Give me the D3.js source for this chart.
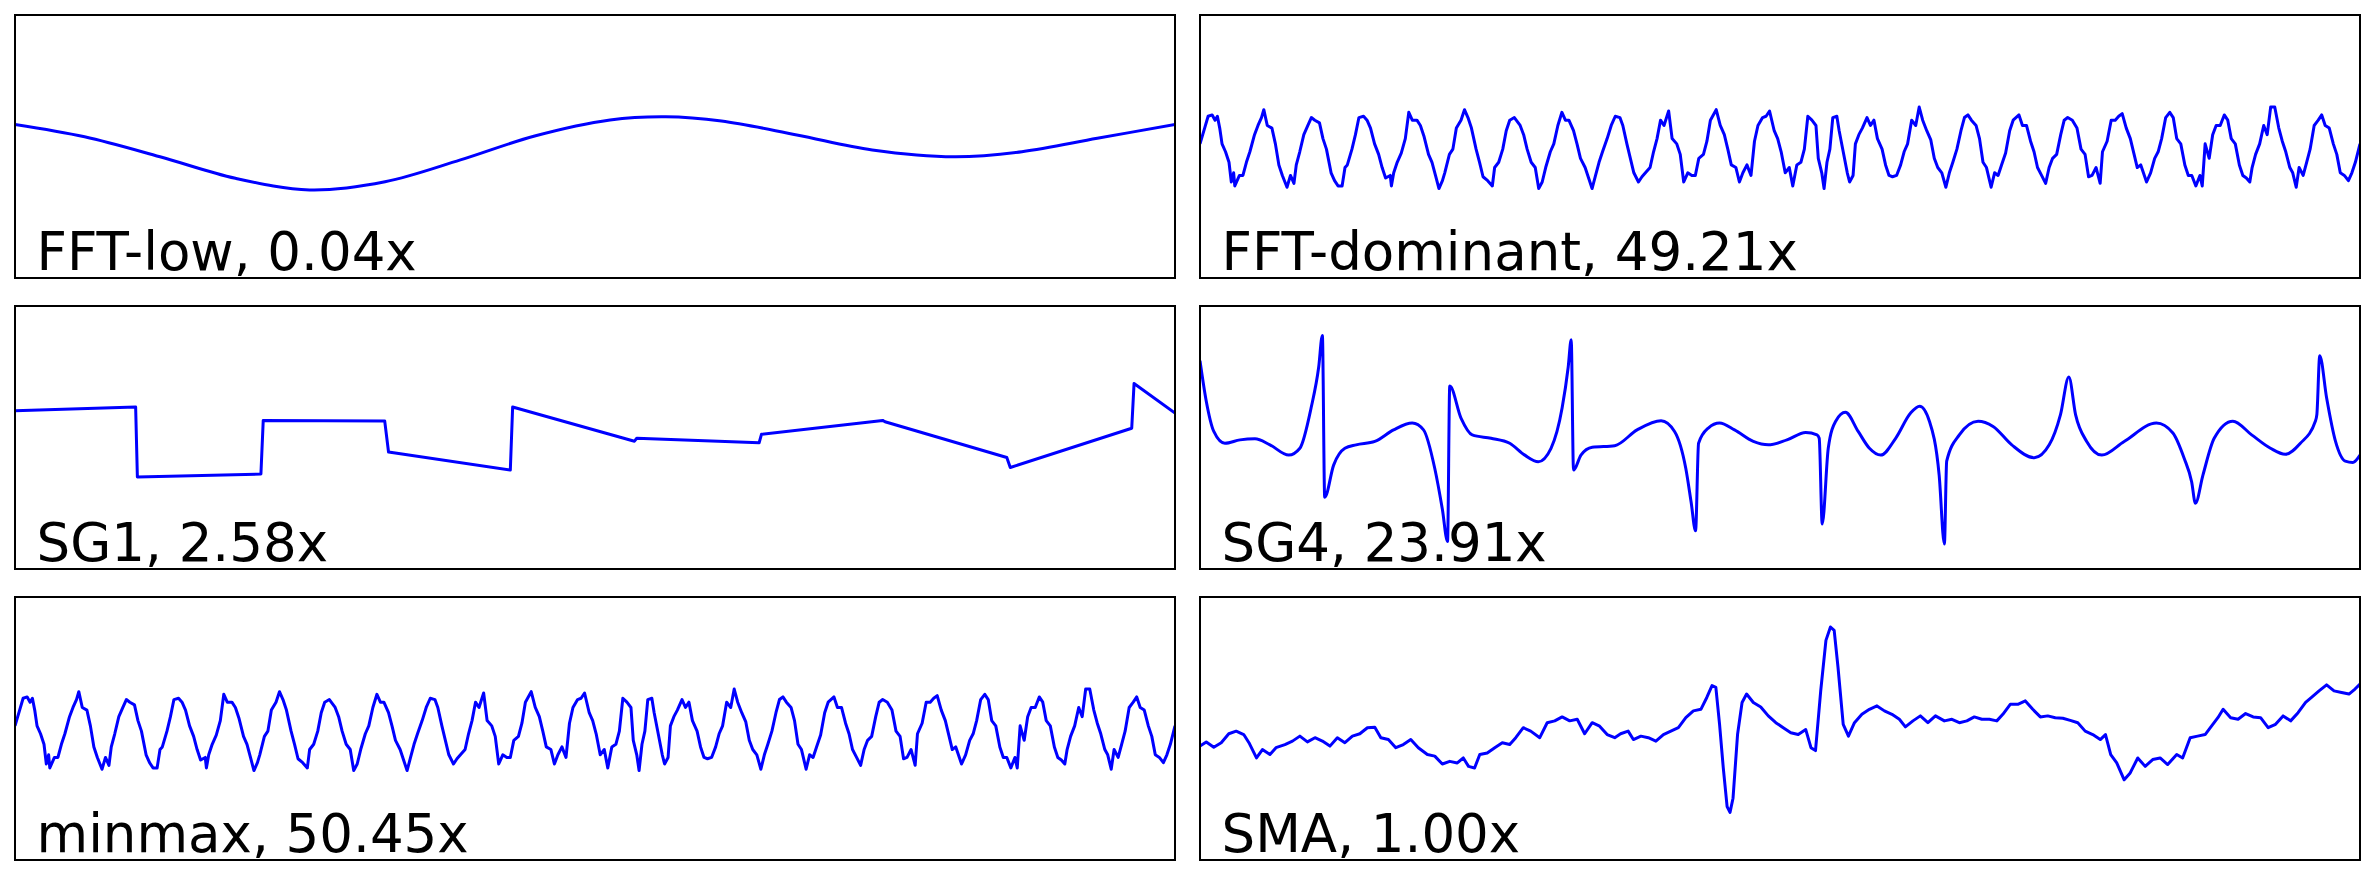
<!DOCTYPE html>
<html>
<head>
<meta charset="utf-8">
<script src="https://cdn.jsdelivr.net/npm/d3@7"></script>
<style>
  body { margin: 0; background: #fff; }
  svg { display: block; }
</style>
</head>
<body>
<svg id="chart"></svg>
<script>
// values: [t, v], t = sample position 0..1000, v = level 0..100
const labels = ["FFT-low, 0.04x", "FFT-dominant, 49.21x", "SG1, 2.58x", "SG4, 23.91x", "minmax, 50.45x", "SMA, 1.00x"];

const fftLowPts = [[0,58.4],[60,53.7],[125,46.1],[190,37.9],[254,33.5],[319,36.6],[384,44.9],[448,54.0],[513,60.1],[561,61.3],[609,59.7],[674,54.4],[739,48.7],[810,46.1],[868,48.0],[933,53.1],[1000,58.4]];

const fftDomPts = [[0,51],[4,57],[7,61.5],[10.5,62],[13,60],[15,61.5],[17,57],[19,51],[22,48],[25,44],[27,36.5],[29,40],[30,35],[34,39],[37,39],[40,44],[43,48],[47,54.5],[50,58],[53,61],[55,64],[58,58],[62,57],[65,51],[68,43],[71,39],[75,34.5],[78,39],[81,36],[83,43],[86,48],[89.5,54.5],[93,58],[96,61],[99,60],[103,59],[106,53],[109,49],[113,40],[116,37],[119,35],[122.5,35],[125,42],[127,43],[131,49],[134,54.5],[137,61],[141,61.5],[144,60],[147,57],[150.5,51],[154,47],[157,42],[160,38],[164,39],[165,35],[167,40],[170,44],[173.5,47.5],[177,53],[180,63],[183,60],[187,60],[190,58],[193,54],[197,47],[200,44],[203,39],[206,34],[209,37],[211,40],[215,47],[218,49],[221,57],[225,60],[228,64],[231,61],[234,57],[238,49],[241,44],[244,38.5],[248,37],[252,35],[254,42],[257.5,44],[261,49],[264,56],[267,60],[271,61],[276,58],[279,54.5],[282,49],[285.5,44],[289,42],[292,34],[295,36.5],[298,42],[302,48],[305,51],[308.5,58],[312,63],[315,60],[318,60],[322,56],[325,51],[328,45.5],[332,42],[335,38],[338,34],[341,39],[344,44],[347,48],[351,53],[354.5,58],[358,61.5],[362,61],[364.5,58],[368,51],[371,45.5],[374,40],[378,36.5],[381,38.5],[384,40],[388,42],[391,48],[394,53],[397,60],[400,58],[404,63.5],[407,53],[411,51],[414,47],[417,36.5],[420.5,40],[424,39],[427,39],[430,45.5],[434,47],[437,52],[440,60],[445,64],[448.5,58],[452,54.5],[455,49],[458,43],[462,42],[465,36.5],[468,40],[471.5,43],[475,39],[478,52],[481,58],[485,61],[488,61.5],[491,63.5],[495,56],[498,53],[501,48],[504.5,40],[508,42],[511,35],
  [514.5,43],[518,44],[521,49],[524,61.5],[527.5,60],[531,58],[533,45.5],[536,40],[538,34],[540.5,44],[543,49],[545.5,61],[549,61.5],[551,56],[554.5,48],[558,40],[560,36.5],[563,39],[565,51],[568,54.5],[571,57],[575,61],[578,58],[581,60],[584,53],[588,49],[591,43],[594,39],[597,38.5],[600.5,39],[604,43],[607,48],[610,51],[613.5,60],[617,58],[620,65],[623,60],[626.5,56],[630,52.5],[633,45.5],[636,42],[639.5,40],[643,34.5],[646,40],[649,44],[652.5,49],[656,56],[659,61],[662,62],[665,60],[669,58],[672,53],[675,44],[678,42],[682,34.5],[685,40],[688,39],[691,43],[694.5,47.5],[698,56],[701,60],[706,62],[709,58],[712.5,58],[716,52],[719,48],[722,42],[725.5,39],[729,36],[732,42],[735,45.5],[738.5,47],[742,54.5],[745,60],[748,61],[752,60],[756,57],[759.5,49],[763,47],[766,38.5],[769,39],[772.5,42],[776,36],[778,48],[782,52],[785.5,60],[789,60],[792,61.5],[795,62.5],[798.5,57],[802,53],[805,47.5],[808,42],[811,43],[816,36.5],[819.5,40],[823,45.5],[826,48],[829,53],[832.5,61],[836,63],[839,61],[842,53],[845.5,51],[849,43],[852,39],[855,39],[858.5,35],[862,39],[864,35],[866.5,51],[870,45.5],[873,54.5],[876,58],[879.5,58],[883,62],[886,60],[889,53],[892.5,51],[896,43],[899,39],[902,38],[905,36.5],[907,42],[910,47],[913.5,51],[917,58],[920,54.5],[923,65],[926.5,65],[930,57],[933,52],[936,48],[939.5,42],[942,40],[945,34.5],[947.5,42],[951,39],[954,44],[957,49],[960.5,58],[964,60],[967,62],[970,58],[973.5,57],[977,51],[980,47],[983,40],[986.5,39],[990,37],[993,40],[996,44],[1000,51]];

// minmax reads the same as FFT-dominant at this resolution
const minmaxPts = fftDomPts;

const sg1Pts = [[0,60.2],[104,61.6],[105.5,35],[212,36.1],[214,56.5],[318.7,56.3],[322,44.5],[427,37.6],[429,61.6],[534,48.6],[536,49.7],[641.5,48.0],[643.5,51.2],[748,56.5],[750,56.0],[855,42.4],[858,38.6],[962.7,53.5],[964.7,70.5],[1000,59.3]];

const sg4Pts = [[0,79.2],[5.4,63.8],[11.9,52.3],[21.5,47.8],[34.5,49.1],[47.4,49.5],[60.3,47.2],[76.5,43.3],[86.1,45.9],[95.8,61.3],[102.3,76.7],[105.5,88.8],[107.5,27.3],[115.2,39.5],[124.9,45.9],[134.6,47.2],[150.7,48.5],[166.9,52.9],[183,55.5],[192.7,52.9],[202.4,38.2],[208.9,22.8],[213.4,10.5],[215.3,69.6],[225,57.4],[234.7,51],[250.9,49.7],[267,47.8],[280,43.3],[291.6,40.8],[302.6,45.9],[312.2,61.3],[317.4,76.7],[320,87.2],[322,37.6],[328.4,43.3],[338.1,46.3],[357.5,46.9],[376.8,52.9],[397.5,56.4],[409.1,52.3],[418.8,38.2],[423.4,25.4],[427.2,14.5],[429.8,47.8],[438.2,53.6],[447.9,55.5],[460.8,52.9],[477,48.5],[489.9,47.2],[506,49.1],[522.2,51.9],[531.9,51],[533.8,49.7],[536.4,17.1],[541.6,45.9],[548,56.2],[556.4,59.6],[567.4,52.3],[577.1,45.9],[586.8,43.3],[599.7,49.7],[612.6,59.3],[620.4,61.9],[628.8,56.2],[637.2,35.7],[641.7,9.5],[643.7,41],[654.6,51],[670.8,56.2],[683.7,54.2],[699.8,47.2],[719.2,42.3],[732.1,47.2],[741.8,58.7],[749,73],[754.8,58.7],[764.4,48.5],[777.4,43.3],[796.7,48.5],[824.5,55.5],[838.7,51.7],[848.4,42.1],[854.9,33.1],[858.1,25],[864.6,35.7],[874.3,49.7],[890.4,56.2],[906.6,51],[922.8,45.9],[935.6,43.6],[948.6,47.8],[961.5,56.2],[962.8,58.7],[965.3,81.1],[971.2,65.1],[978.9,48.5],[987.3,41],[993.8,40.5],[1000,43.3]];

const smaPts = [[0,43.3],[5.4,44.9],[11.9,42.9],[18.3,44.6],[24.8,48.0],[31.2,49.0],[37.7,47.7],[42.2,44.6],[48.7,38.8],[53.8,42.0],[60.3,40.1],[65.5,42.7],[73.2,43.9],[79.7,45.2],[86.1,47.1],[92.6,44.9],[99.1,46.5],[105.5,45.2],[112,43.3],[118.4,46.5],[124.9,44.6],[131.4,47.1],[137.8,48.0],[144.3,50.3],[150.7,50.5],[155.9,46.5],[162.4,45.8],[168.8,42.7],[175.3,43.9],[181.7,45.8],[188.2,42.7],[196,40.1],[202.4,39.5],[208.9,36.5],[215.3,37.5],[221.8,36.9],[227,38.8],[231.5,35.6],[236.7,35.0],[241.2,40.1],[247.6,40.7],[254.1,42.7],[260.6,44.6],[267,43.9],[272.2,46.5],[278.7,50.3],[285.1,49.0],[292.9,46.5],[299.3,52.2],[305.8,52.9],[312.2,54.4],[318.7,52.9],[325.2,53.5],[331.6,48.0],[338.1,52.2],[344.5,50.9],[351,47.7],[357.5,46.5],[362.6,48.0],[369.1,49.0],[373.6,45.8],[380.1,47.1],[386.5,46.5],[393,45.2],[399.5,47.7],[405.9,49.0],[412.4,50.3],[418.8,54.1],[425.3,56.7],[431.8,57.3],[436.9,61.8],[441.4,66.3],[444.7,65.6],[447.9,51.6],[451.1,35.0],[454.4,20.3],[456.9,18.1],[459.5,23.5],[463.4,47.7],[467.3,59.9],[471.2,63.1],[477,59.9],[483.4,58.2],[489.9,54.8],[496.4,52.2],[502.8,50.3],[509.3,48.4],[515.7,47.7],[522.2,49.6],[526.7,42.7],[530.6,41.6],[535.1,64.3],[539.6,83.5],[543.5,88.6],[546.7,87.3],[550,73.3],[554.5,51.6],[559,47.1],[564.2,52.2],[570.6,55.4],[577.1,57.3],[583.6,58.6],[590,56.7],[596.5,55.4],[602.9,53.5],[608.1,50.6],[614.6,52.9],[621,54.8],[627.5,52.2],[634,54.8],[641.7,52.9],[648.2,53.5],[654.6,52.2],[661.1,52.9],[667.5,54.4],[674,53.5],[680.5,53.5],[686.9,52.9],[692.1,55.4],[698.5,59.2],[705,59.2],[711.5,60.5],[717.9,57.3],[724.4,54.4],[730.8,54.8],[737.3,54.1],[743.8,53.9],[750.2,53.1],[756.7,52.2],[763.1,49.0],[769.6,47.7],[776.1,45.8],[780.6,47.7],[785.1,40.1],[790.3,36.9],[796.7,30.5],[801.9,33.1],[808.4,38.8],[814.8,35.6],[821.3,38.2],[827.7,38.8],[834.2,36.3],[842,40.1],[847.1,38.8],[853.6,46.5],[860,47.1],[866.5,47.7],[871,50.3],[877.5,54.1],[882,57.3],[888.5,54.1],[894.9,53.5],[901.4,55.7],[907.9,54.4],[914.3,54.1],[920.8,50.3],[927.2,51.6],[933.7,54.8],[940.2,52.9],[946.6,56.0],[953.1,59.9],[958.2,61.8],[964.7,64.3],[971.2,66.6],[977.6,64.3],[984.1,63.7],[990.5,63.1],[995.7,65.0],[1000,66.9]];

const width = 2376;
const height = 876;
const colX = [15, 1200];
const rowY = [15, 306, 597];
const panelW = 1160;
const panelH = 263;

const panels = [
  { label: labels[0], pts: fftLowPts, curve: d3.curveCatmullRom },
  { label: labels[1], pts: fftDomPts, curve: d3.curveLinear },
  { label: labels[2], pts: sg1Pts, curve: d3.curveLinear },
  { label: labels[3], pts: sg4Pts, curve: d3.curveMonotoneX },
  { label: labels[4], pts: minmaxPts, curve: d3.curveLinear },
  { label: labels[5], pts: smaPts, curve: d3.curveLinear }
];

const svg = d3.select("#chart")
  .attr("width", width)
  .attr("height", height)
  .style("background", "#fff");

const x = d3.scaleLinear().domain([0, 1000]).range([0, panelW]);
const y = d3.scaleLinear().domain([0, 100]).range([panelH, 0]);

panels.forEach((p, i) => {
  const g = svg.append("g")
    .attr("transform", `translate(${colX[i % 2]},${rowY[Math.floor(i / 2)]})`);

  g.append("clipPath")
    .attr("id", "clip" + i)
    .append("rect")
    .attr("width", panelW)
    .attr("height", panelH);

  const line = d3.line()
    .x(d => x(d[0]))
    .y(d => y(d[1]))
    .curve(p.curve);

  g.append("path")
    .datum(p.pts)
    .attr("clip-path", `url(#clip${i})`)
    .attr("fill", "none")
    .attr("stroke", "#0000ff")
    .attr("stroke-width", 3)
    .attr("stroke-linejoin", "round")
    .attr("d", line);

  g.append("text")
    .attr("x", 21.5)
    .attr("y", panelH - 8)
    .style("font-family", "'DejaVu Sans', sans-serif")
    .style("font-size", "53px")
    .attr("fill", "#000")
    .text(p.label);

  // frame
  g.append("rect")
    .attr("width", panelW)
    .attr("height", panelH)
    .attr("fill", "none")
    .attr("stroke", "#000")
    .attr("stroke-width", 2);
});
</script>
</body>
</html>
